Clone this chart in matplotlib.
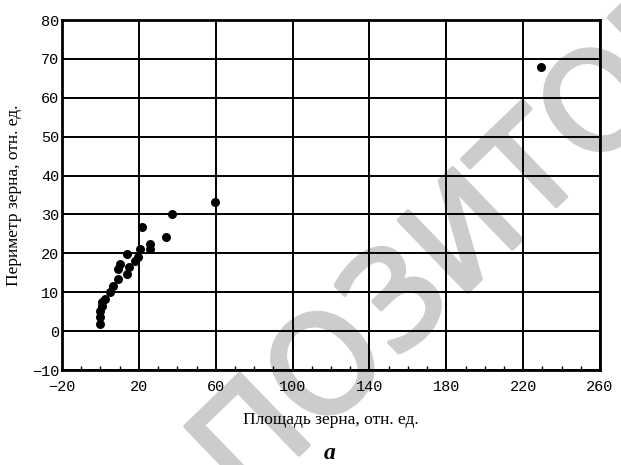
import matplotlib
matplotlib.use("Agg")
import matplotlib.pyplot as plt
import matplotlib.patheffects as pe
from matplotlib.ticker import MultipleLocator

area = [-0.3, -0.3, 0.0, 0.8, 0.8, 2.3, 5.0, 6.5, 9.0, 9.0, 10.0, 13.8, 15.0, 13.8,
        18.0, 19.5, 20.5, 21.6, 25.7, 25.7, 34.0, 37.0, 59.5, 229.4]
perimeter = [1.8, 3.6, 5.1, 6.4, 7.5, 8.2, 10.0, 11.5, 13.3, 15.9, 17.2, 14.6, 16.4, 19.7,
             18.0, 19.0, 21.0, 26.9, 22.3, 21.0, 24.1, 30.0, 33.1, 68.0]
xticks = [-20, 20, 60, 100, 140, 180, 220, 260]
yticks = [-10, 0, 10, 20, 30, 40, 50, 60, 70, 80]
xlabel = "Площадь зерна, отн. ед."
ylabel = "Периметр зерна, отн. ед."
caption = "а"
watermark = "ПОЗИТОР"

fig = plt.figure(figsize=(6.21, 4.65), dpi=100)
ax = fig.add_axes([62/621, 1-370/465, (600-62)/621, (370-20)/465])
ax.set_zorder(2)
ax.set_facecolor("none")

# watermark behind everything
fig.text(486/621, 1-274/465, watermark, rotation=44, rotation_mode="anchor",
         ha="center", va="baseline",
         fontsize=98, fontweight="normal", color="#cccccc", family="DejaVu Sans",
         zorder=-1,
         path_effects=[pe.withStroke(linewidth=3, foreground="#cccccc")])

ax.scatter(area, perimeter, s=42, color="black", zorder=3, linewidths=0)

ax.set_xlim(-20, 260)
ax.set_ylim(-10, 80)
ax.set_xticks(xticks)
ax.set_yticks(yticks)
ax.xaxis.set_minor_locator(MultipleLocator(10))
ax.grid(True, color="black", linewidth=1.4, zorder=1)
for s in ax.spines.values():
    s.set_linewidth(2.0)
    s.set_color("black")
ax.tick_params(axis="both", which="major", length=0, pad=4)
ax.tick_params(axis="x", which="minor", direction="in", length=3, width=1)
ax.tick_params(axis="x", which="major", pad=7)
ax.tick_params(axis="y", which="major", pad=2)
for lab in ax.get_xticklabels() + ax.get_yticklabels():
    lab.set_family("Liberation Mono")
    lab.set_fontsize(11)

ax.set_xlabel(xlabel, family="Liberation Serif", fontsize=12.5, labelpad=13)
ax.set_ylabel(ylabel, family="Liberation Serif", fontsize=12.5, labelpad=7)

fig.text(330/621, 1-453/465, caption, ha="center", va="center",
         family="Liberation Serif", fontsize=17, fontstyle="italic", fontweight="bold")

fig.savefig("out.png", dpi=100)
